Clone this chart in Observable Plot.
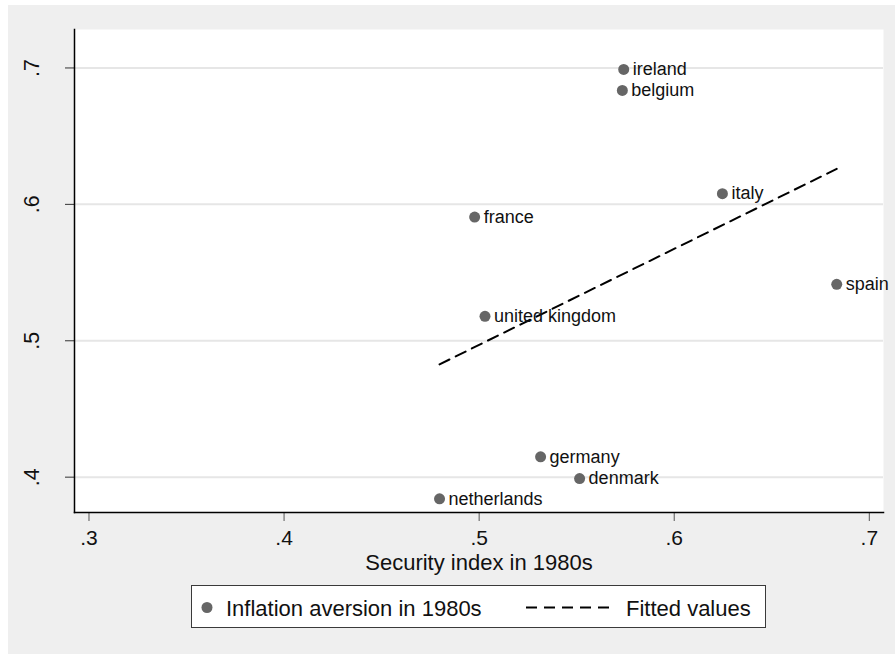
<!DOCTYPE html>
<html><head><meta charset="utf-8">
<script src="https://cdn.jsdelivr.net/npm/d3@7"></script>
<script src="https://cdn.jsdelivr.net/npm/@observablehq/plot@0.6"></script>
<style>
html,body{margin:0;padding:0;background:#fff;}
#wrap{position:absolute;left:8px;top:5px;width:887px;height:649px;background:#efefef;font-family:"Liberation Sans",Arial,sans-serif;}
#chart{position:absolute;left:0;top:0;}
#legend{position:absolute;left:183px;top:580px;width:573px;height:41px;background:#fff;border:1px solid #3a3a3a;box-sizing:content-box;}
#legend svg{display:block;}
</style>
</head><body>
<div id="wrap"><div id="chart"></div><div id="legend"></div></div>
<script>
const countries = ["ireland","belgium","italy","france","spain","united kingdom","germany","denmark","netherlands"];
const security = [0.5741,0.5734,0.6247,0.4977,0.6833,0.5030,0.5315,0.5515,0.4797];
const inflationAversion = [0.6989,0.6835,0.6078,0.5907,0.5414,0.5179,0.4149,0.3990,0.3841];
const xTicks = [0.3,0.4,0.5,0.6,0.7];
const yTicks = [0.4,0.5,0.6,0.7];
const xTitle = "Security index in 1980s";
const seriesNames = ["Inflation aversion in 1980s","Fitted values"];

const data = countries.map((c,i)=>({country:c, x:security[i], y:inflationAversion[i]}));
const fmt = d => d3.format(".1f")(d).replace(/^0/,"");
const FONT = "Liberation Sans, Arial, sans-serif";

const chart = Plot.plot({
  width: 887, height: 575,
  marginLeft: 66, marginRight: 12, marginTop: 24, marginBottom: 68,
  style: {background: "transparent", fontFamily: FONT, color: "#000"},
  x: {domain: [0.29257, 0.70728]},
  y: {domain: [0.3741, 0.7282]},
  marks: [
    Plot.frame({fill: "white", stroke: null}),
    Plot.gridY(yTicks, {stroke: "#e6e6e6", strokeOpacity: 1, strokeWidth: 2}),
    Plot.axisY(yTicks, {tickSize: 9, tickPadding: 27, tickRotate: -90, tickFormat: fmt, fontSize: 21.5, stroke: "#333", fill: "#111", label: null}),
    Plot.axisX(xTicks, {tickSize: 9, tickPadding: 9, tickFormat: fmt, fontSize: 21, stroke: "#555", fill: "#111", label: null}),
    Plot.frame({anchor: "left", stroke: "black", strokeWidth: 1.5}),
    Plot.frame({anchor: "bottom", stroke: "black", strokeWidth: 1.5}),
    Plot.linearRegressionY(data, {x: "x", y: "y", ci: 0, stroke: "black", strokeWidth: 2, strokeDasharray: "11,7"}),
    Plot.dot(data, {x: "x", y: "y", r: 5.5, fill: "#666", stroke: null}),
    Plot.text(data, {x: "x", y: "y", text: "country", textAnchor: "start", dx: 9, fontSize: 18, fill: "#111"}),
    Plot.text([xTitle], {frameAnchor: "bottom", lineAnchor: "bottom", dy: 57, fontSize: 22, fill: "#111"})
  ]
});
document.getElementById("chart").appendChild(chart);

// legend
const lg = d3.select("#legend").append("svg").attr("width", 573).attr("height", 41)
  .style("font-family", FONT);
lg.append("circle").attr("cx", 15).attr("cy", 21.5).attr("r", 5.5).attr("fill", "#666");
lg.append("text").attr("x", 34).attr("y", 30).attr("font-size", 22).attr("fill", "#111").text(seriesNames[0]);
lg.append("line").attr("x1", 334).attr("x2", 420).attr("y1", 21.5).attr("y2", 21.5)
  .attr("stroke", "black").attr("stroke-width", 2).attr("stroke-dasharray", "11,7");
lg.append("text").attr("x", 434).attr("y", 30).attr("font-size", 22).attr("fill", "#111").text(seriesNames[1]);
</script>
</body></html>
